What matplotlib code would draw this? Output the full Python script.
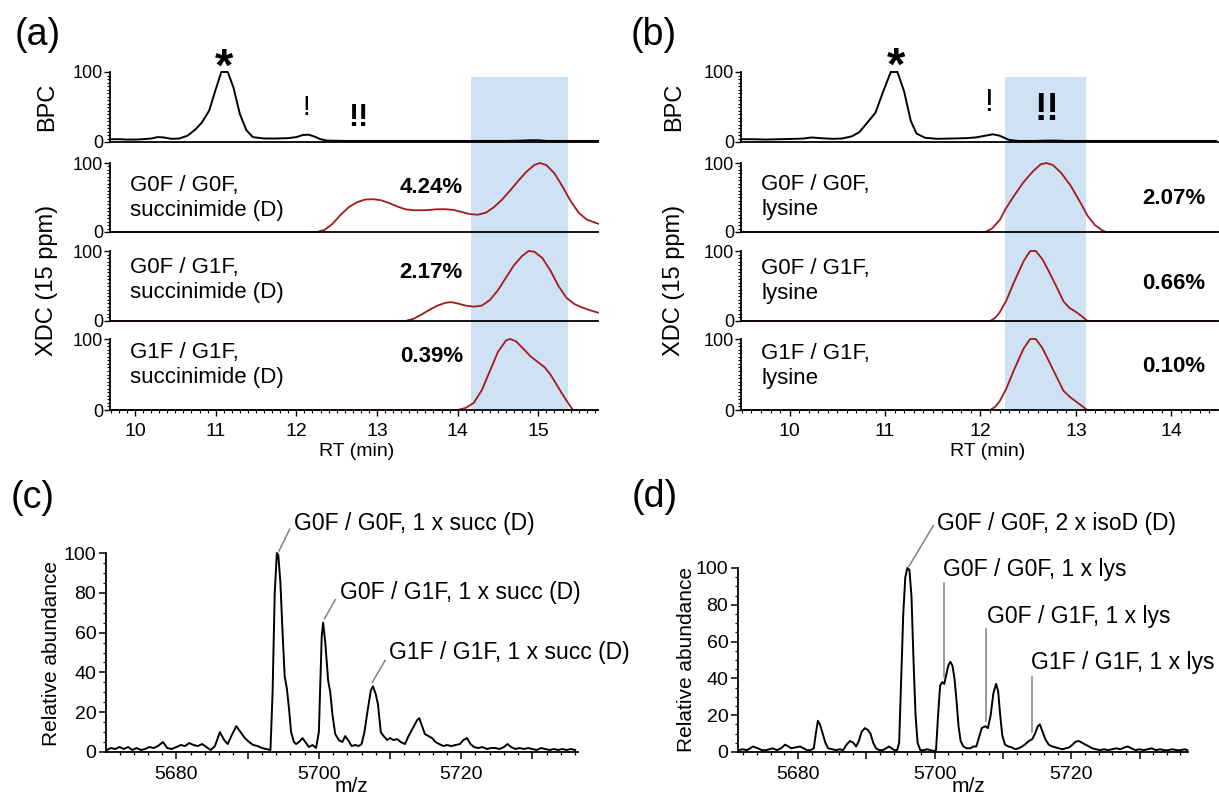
import matplotlib
matplotlib.use("Agg")
import matplotlib.pyplot as plt
from matplotlib.ticker import MultipleLocator, FixedLocator, FuncFormatter
from matplotlib.patches import Rectangle
from matplotlib.transforms import blended_transform_factory

plt.rcParams["font.family"] = ["Liberation Sans", "DejaVu Sans"]

# ---------------- chromatograms, panel (a) ----------------
a_bpc_rt = [9.69, 9.8, 9.9, 10.0, 10.1, 10.2, 10.28, 10.36, 10.45, 10.55, 10.65, 10.75, 10.83,
            10.92, 11.0, 11.07, 11.15, 11.22, 11.3, 11.38, 11.46, 11.6, 11.75, 11.9, 12.0,
            12.08, 12.15, 12.22, 12.3, 12.38, 12.6, 12.8, 13.0, 13.5, 14.0, 14.6, 14.8, 14.9,
            15.0, 15.1, 15.74]
a_bpc_int = [4, 4, 3.5, 3.5, 4, 5, 7, 6.5, 4.5, 5, 9, 18, 28,
             45, 75, 100, 100, 78, 40, 17, 7, 5, 5, 5.5, 7,
             10, 10.5, 8, 4, 2, 1.5, 1.5, 1.5, 1.5, 1.5, 1.5, 2, 2.5,
             2.5, 1.5, 1.5]

a_xdc1_rt = [9.69, 12.25, 12.35, 12.45, 12.55, 12.65, 12.75, 12.85, 12.95, 13.05, 13.15,
             13.25, 13.35, 13.45, 13.55, 13.65, 13.75, 13.85, 13.95, 14.05, 14.15, 14.25,
             14.35, 14.45, 14.55, 14.65, 14.75, 14.85, 14.95, 15.02, 15.1, 15.2, 15.3, 15.4,
             15.5, 15.6, 15.74]
a_xdc1_int = [0, 0, 3, 12, 25, 36, 43, 47, 47.5, 46, 42,
              37, 33, 31.5, 31.5, 32, 33, 33, 32, 29, 26, 25,
              28, 36, 47, 60, 74, 87, 97, 100, 97, 85, 66, 45,
              28, 18, 12]

a_xdc2_rt = [9.69, 13.35, 13.45, 13.55, 13.65, 13.75, 13.85, 13.92, 14.0, 14.1, 14.2, 14.3,
             14.4, 14.5, 14.6, 14.7, 14.8, 14.88, 14.95, 15.05, 15.15, 15.25, 15.35, 15.45,
             15.55, 15.65, 15.74]
a_xdc2_int = [0, 0, 3, 9, 16, 22, 26, 27, 25, 22, 20.5, 22,
              30, 44, 62, 80, 93, 100, 99, 90, 72, 50, 33, 24,
              19, 15, 12]

a_xdc3_rt = [9.69, 14.0, 14.1, 14.2, 14.3, 14.4, 14.5, 14.6, 14.65, 14.72, 14.8, 14.9, 15.0,
             15.08, 15.15, 15.22, 15.3, 15.38, 15.43, 15.74]
a_xdc3_int = [0, 0, 3, 10, 28, 55, 82, 98, 100, 97, 88, 76, 67,
              60, 50, 37, 22, 8, 0, 0]

# ---------------- chromatograms, panel (b) ----------------
b_bpc_rt = [9.5, 9.6, 9.75, 9.9, 10.05, 10.15, 10.23, 10.32, 10.45, 10.55, 10.65, 10.73,
            10.81, 10.9, 10.98, 11.06, 11.13, 11.2, 11.27, 11.33, 11.42, 11.55, 11.7, 11.85,
            11.95, 12.05, 12.13, 12.2, 12.3, 12.4, 12.55, 12.7, 12.8, 12.9, 13.1, 13.5, 14.0,
            14.47]
b_bpc_int = [4, 4, 3.5, 4, 4.5, 5, 6.5, 5.5, 4.5, 5, 8, 14,
             27, 42, 72, 100, 100, 72, 30, 12, 6, 4.5, 5, 5.5,
             6.5, 9, 11, 9, 3, 1.5, 1.5, 2, 2, 1.5, 1.5, 1.5, 1.5,
             1.5]

b_xdc1_rt = [9.5, 12.05, 12.12, 12.2, 12.27, 12.35, 12.45, 12.55, 12.63, 12.69, 12.76, 12.85,
             12.95, 13.05, 13.12, 13.2, 13.28, 13.32, 14.47]
b_xdc1_int = [0, 0, 5, 17, 35, 52, 72, 88, 98, 100, 97, 85,
              66, 42, 24, 10, 2, 0, 0]

b_xdc2_rt = [9.5, 12.1, 12.15, 12.2, 12.27, 12.35, 12.45, 12.52, 12.58, 12.65, 12.72, 12.8,
             12.87, 12.93, 13.0, 13.07, 13.12, 14.47]
b_xdc2_int = [0, 0, 4, 12, 29, 55, 85, 100, 100, 88, 70, 48,
              28, 19, 13, 6, 0, 0]

b_xdc3_rt = [9.5, 12.1, 12.15, 12.2, 12.27, 12.35, 12.45, 12.52, 12.58, 12.65, 12.72, 12.8,
             12.87, 12.94, 13.0, 13.07, 13.12, 14.47]
b_xdc3_int = [0, 0, 4, 12, 30, 56, 86, 100, 100, 87, 68, 46,
              27, 18, 12, 5, 0, 0]

a_labels = ["G0F / G0F,\nsuccinimide (D)", "G0F / G1F,\nsuccinimide (D)",
            "G1F / G1F,\nsuccinimide (D)"]
a_percent = ["4.24%", "2.17%", "0.39%"]
b_labels = ["G0F / G0F,\nlysine", "G0F / G1F,\nlysine", "G1F / G1F,\nlysine"]
b_percent = ["2.07%", "0.66%", "0.10%"]

# ---------------- deconvoluted spectra ----------------
c_mz = [5670.2, 5670.8, 5671.4, 5672.0, 5672.6, 5673.2, 5673.8, 5674.4, 5675.0, 5675.6,
        5676.2, 5676.8, 5677.4, 5678.1, 5678.7, 5679.3, 5680.0, 5680.6, 5681.2, 5681.8,
        5682.4, 5683.0, 5683.6, 5684.2, 5684.8, 5685.4, 5686.1, 5686.7, 5687.2, 5687.7,
        5688.4, 5689.0, 5689.6, 5690.2, 5690.8, 5691.4, 5692.0, 5692.6, 5693.2, 5693.5,
        5693.8, 5694.1, 5694.3, 5694.6, 5694.9, 5695.2, 5695.5, 5695.8, 5696.1, 5696.5,
        5696.8, 5697.2, 5697.7, 5698.1, 5698.6, 5699.1, 5699.6, 5700.0, 5700.4, 5700.6,
        5700.9, 5701.3, 5701.6, 5701.9, 5702.3, 5702.8, 5703.3, 5703.7, 5704.1, 5704.6,
        5705.1, 5705.6, 5706.0, 5706.4, 5706.9, 5707.3, 5707.6, 5708.0, 5708.3, 5708.7,
        5709.1, 5709.6, 5710.0, 5710.5, 5711.0, 5711.5, 5712.1, 5712.6, 5713.2, 5713.8,
        5714.1, 5714.5, 5714.9, 5715.4, 5715.9, 5716.4, 5716.9, 5717.5, 5718.0, 5718.6,
        5719.2, 5719.8, 5720.3, 5720.8, 5721.3, 5721.8, 5722.4, 5723.0, 5723.6, 5724.2,
        5724.8, 5725.4, 5726.0, 5726.5, 5727.0, 5727.6, 5728.2, 5728.8, 5729.4, 5730.0,
        5730.6, 5731.2, 5731.8, 5732.4, 5733.0, 5733.6, 5734.2, 5734.8, 5735.4, 5736.0]
c_int = [1, 2, 1.5, 2.5, 1.5, 2.5, 1, 2, 1, 1.5,
         2.5, 2, 3, 5, 2, 1.5, 2.5, 3.5, 3, 4.5,
         3.5, 3, 4, 2.5, 1, 3, 10, 6, 4, 8,
         13, 10, 7, 5, 3.5, 3, 2, 1.5, 1, 30,
         80, 100, 99, 85, 60, 38, 32, 22, 10, 5,
         4, 5, 7, 5, 2.5, 3.5, 2, 10, 58, 65,
         55, 36, 30, 19, 9, 6, 5, 8, 6, 3,
         3.5, 3, 4, 10, 22, 31, 33, 29, 24, 10,
         8, 6, 7, 6, 6.5, 5, 4, 8, 12, 16,
         17, 13, 9, 8, 7, 5, 4, 3, 3.5, 3,
         3.5, 4, 6, 7, 4, 2.5, 2, 2.5, 1.5, 2,
         2, 1.5, 2.5, 4, 2.5, 1.5, 2, 1.5, 2, 1.5,
         1, 2, 1.5, 1, 1.5, 1, 1.5, 1, 1.5, 1]

d_mz = [5671.3, 5671.9, 5672.5, 5673.0, 5673.4, 5674.1, 5674.7, 5675.3, 5675.8, 5676.3,
        5676.9, 5677.5, 5678.1, 5678.6, 5679.0, 5679.6, 5680.3, 5680.8, 5681.3, 5681.8,
        5682.3, 5682.6, 5682.9, 5683.2, 5683.6, 5684.0, 5684.4, 5685.0, 5685.6, 5686.1,
        5686.6, 5687.1, 5687.6, 5688.1, 5688.5, 5688.9, 5689.3, 5689.8, 5690.2, 5690.6,
        5691.0, 5691.4, 5691.9, 5692.4, 5692.9, 5693.3, 5693.7, 5694.1, 5694.5, 5694.8,
        5695.1, 5695.4, 5695.7, 5696.0, 5696.3, 5696.6, 5696.9, 5697.2, 5697.5, 5697.9,
        5698.4, 5698.9, 5699.4, 5699.9, 5700.2, 5700.5, 5700.8, 5701.1, 5701.4, 5701.7,
        5702.0, 5702.3, 5702.6, 5702.9, 5703.2, 5703.5, 5703.8, 5704.2, 5704.7, 5705.2,
        5705.7, 5706.1, 5706.5, 5706.9, 5707.4, 5707.8, 5708.2, 5708.6, 5709.0, 5709.3,
        5709.6, 5709.9, 5710.3, 5710.8, 5711.3, 5711.8, 5712.3, 5712.8, 5713.2, 5713.8,
        5714.3, 5714.7, 5715.1, 5715.4, 5715.8, 5716.2, 5716.7, 5717.2, 5717.7, 5718.2,
        5718.7, 5719.2, 5719.7, 5720.2, 5720.6, 5721.1, 5721.6, 5722.1, 5722.6, 5723.1,
        5723.6, 5724.2, 5724.8, 5725.4, 5726.0, 5726.6, 5727.2, 5727.8, 5728.3, 5728.8,
        5729.4, 5730.0, 5730.6, 5731.2, 5731.8, 5732.4, 5733.0, 5733.6, 5734.2, 5734.8,
        5735.4, 5736.0, 5736.6, 5737.0]
d_int = [1, 1.5, 1, 2, 3, 2, 1, 1, 1.5, 2,
         1, 2, 4, 3, 2, 2.5, 3, 2, 1, 1,
         2, 10, 17, 15, 10, 5, 2, 1.5, 1, 1.5,
         1, 4, 6, 5, 3, 6, 11, 13, 12, 10,
         5, 2, 1, 1, 2, 3, 2, 1, 1, 5,
         40, 75, 95, 100, 99, 85, 50, 20, 5, 1,
         1, 1.5, 1, 0.5, 1, 20, 36, 38, 37, 42,
         47, 49, 47, 40, 28, 14, 6, 3, 2, 2,
         3, 3, 8, 13, 14, 13, 20, 32, 37, 33,
         20, 9, 4, 3, 2.5, 1.5, 2, 3, 4, 6,
         7, 10, 14, 15, 11, 7, 4, 3, 2.5, 2,
         1.5, 2, 2.5, 4, 5.5, 6, 5, 4, 3, 2,
         1.5, 1, 1.5, 1, 1.5, 2, 1.5, 2.5, 3, 2,
         1, 1.5, 1, 1.5, 2, 1, 1.5, 1, 1, 1.5,
         1, 1, 1.5, 1]

c_labels = ["G0F / G0F, 1 x succ (D)", "G0F / G1F, 1 x succ (D)", "G1F / G1F, 1 x succ (D)"]
d_labels = ["G0F / G0F, 2 x isoD (D)", "G0F / G0F, 1 x lys", "G0F / G1F, 1 x lys",
            "G1F / G1F, 1 x lys"]

W, H = 1219, 799
RED = "#a3191c"
SPAN = "#cfe2f4"

fig = plt.figure(figsize=(W / 100, H / 100), dpi=100)


def rect(l, t, r, b):
    return [l / W, 1 - b / H, (r - l) / W, (b - t) / H]


def chrom_axes(l, r, t, b, xlim, bottom):
    ax = fig.add_axes(rect(l, t, r, b))
    ax.patch.set_visible(False)
    ax.set_xlim(*xlim)
    ax.set_ylim(0, 100)
    for s in ("top", "right"):
        ax.spines[s].set_visible(False)
    for s in ("left", "bottom"):
        ax.spines[s].set_linewidth(1.3)
    ax.yaxis.set_major_locator(FixedLocator([0, 100]))
    ax.yaxis.set_minor_locator(MultipleLocator(5))
    ax.tick_params(axis="y", which="major", length=4, width=1, labelsize=13, pad=1)
    ax.tick_params(axis="y", which="minor", length=2, width=0.8)
    if bottom:
        ax.xaxis.set_major_locator(MultipleLocator(1))
        ax.xaxis.set_minor_locator(MultipleLocator(0.1))
        ax.tick_params(axis="x", which="major", length=4, width=1, labelsize=14, pad=5)
        ax.tick_params(axis="x", which="minor", length=2, width=0.8)
    else:
        ax.tick_params(axis="x", which="both", bottom=False, labelbottom=False)
    return ax


rows = [(72, 142), (163, 232), (251, 321), (339, 410)]


def chrom_panel(l, r, xlim, bpc, xdcs, labels, percents, lab_y, pct_y, lab_x, pct_x, span):
    axes = [chrom_axes(l, r, t, b, xlim, i == 3) for i, (t, b) in enumerate(rows)]
    axes[0].plot(bpc[0], bpc[1], color="black", lw=1.4, clip_on=False)
    for ax, (x, y), txt, pct, ly, py in zip(axes[1:], xdcs, labels, percents, lab_y, pct_y):
        ax.plot(x, y, color=RED, lw=1.3, clip_on=False)
        ax.text(lab_x, ly, txt, transform=ax.transAxes, fontsize=16, va="center",
                ha="left", linespacing=1.25)
        ax.text(pct_x, py, pct, transform=ax.transAxes, fontsize=16, va="center",
                ha="right", fontweight="bold")
    tr = blended_transform_factory(axes[3].transData, fig.transFigure)
    fig.add_artist(Rectangle((span[0], 1 - 410 / H), span[1] - span[0], (410 - 77) / H,
                             transform=tr, facecolor=SPAN, edgecolor="none", zorder=-1))
    return axes


ax_a = chrom_panel(110, 598, (9.69, 15.74), (a_bpc_rt, a_bpc_int),
                   [(a_xdc1_rt, a_xdc1_int), (a_xdc2_rt, a_xdc2_int), (a_xdc3_rt, a_xdc3_int)],
                   a_labels, a_percent, [0.49, 0.58, 0.63], [0.64, 0.70, 0.75],
                   0.041, 0.723, (14.17, 15.37))
ax_b = chrom_panel(741, 1219, (9.49, 14.5), (b_bpc_rt, b_bpc_int),
                   [(b_xdc1_rt, b_xdc1_int), (b_xdc2_rt, b_xdc2_int), (b_xdc3_rt, b_xdc3_int)],
                   b_labels, b_percent, [0.51, 0.57, 0.62], [0.49, 0.54, 0.61],
                   0.042, 0.971, (12.26, 13.11))

# peak markers on the BPC traces
ax_a[0].text(11.10, 87, "*", fontsize=34, fontweight="bold", ha="center", va="baseline",
             clip_on=False)
ax_a[0].text(12.12, 39, "!", fontsize=20, ha="center", va="baseline", clip_on=False)
ax_a[0].text(12.77, 23, "!!", fontsize=22, fontweight="bold", ha="center", va="baseline",
             clip_on=False)
ax_b[0].text(11.11, 89, "*", fontsize=34, fontweight="bold", ha="center", va="baseline",
             clip_on=False)
ax_b[0].text(12.08, 44, "!", fontsize=23, ha="center", va="baseline", clip_on=False)
ax_b[0].text(12.70, 32, "!!", fontsize=27, fontweight="bold", ha="center", va="baseline",
             clip_on=False)

for x in (47, 674):
    fig.text(x / W, 1 - 107 / H, "BPC", rotation=90, fontsize=17, ha="center", va="center")
    fig.text(x / W, 1 - 280 / H, "XDC (15 ppm)", rotation=90, fontsize=17, ha="center",
             va="center")
fig.text(357 / W, 1 - 451 / H, "RT (min)", fontsize=14, ha="center", va="center")
fig.text(988 / W, 1 - 451 / H, "RT (min)", fontsize=14, ha="center", va="center")


# ---------------- spectra ----------------
def spec_axes(l, r, t, b, xlim):
    ax = fig.add_axes(rect(l, t, r, b))
    ax.set_xlim(*xlim)
    ax.set_ylim(0, 100)
    for s in ("top", "right"):
        ax.spines[s].set_visible(False)
    for s in ("left", "bottom"):
        ax.spines[s].set_linewidth(1.3)
    ax.yaxis.set_major_locator(MultipleLocator(20))
    ax.yaxis.set_minor_locator(MultipleLocator(5))
    ax.xaxis.set_major_locator(MultipleLocator(10))
    ax.xaxis.set_minor_locator(MultipleLocator(2))
    ax.xaxis.set_major_formatter(FuncFormatter(lambda v, p: f"{v:.0f}" if round(v) % 20 == 0 else ""))
    ax.tick_params(which="major", length=5, width=1.1, labelsize=14)
    ax.tick_params(axis="y", which="major", pad=2)
    ax.tick_params(axis="x", which="major", pad=5)
    ax.tick_params(which="minor", length=2.5, width=0.9)
    return ax


ax_c = spec_axes(106, 578, 553, 752, (5670.1, 5736.4))
ax_c.plot(c_mz, c_int, color="black", lw=1.4, clip_on=False)
c_text = [(5696.5, 115), (5702.9, 80), (5709.8, 50)]
c_lines = [((5694.4, 5695.9), (101, 112)), ((5700.8, 5702.3), (67, 76.5)),
           ((5707.5, 5709.3), (35, 46))]
for txt, (tx, ty), (lx, ly) in zip(c_labels, c_text, c_lines):
    ax_c.plot(lx, ly, color="#808080", lw=1.1, clip_on=False)
    ax_c.text(tx, ty, txt, fontsize=16.5, ha="left", va="center", clip_on=False)

ax_d = spec_axes(738, 1188, 568, 752, (5671.2, 5737.1))
ax_d.plot(d_mz, d_int, color="black", lw=1.4, clip_on=False)
d_text = [(5700.35, 124), (5701.2, 99), (5707.7, 73.5), (5714.1, 48.5)]
d_lines = [((5696.25, 5699.8), (101, 123)), ((5701.3, 5701.3), (92, 41)),
           ((5707.5, 5707.5), (67, 17)), ((5714.3, 5714.3), (41, 11))]
for txt, (tx, ty), (lx, ly) in zip(d_labels, d_text, d_lines):
    ax_d.plot(lx, ly, color="#808080", lw=1.1, clip_on=False)
    ax_d.text(tx, ty, txt, fontsize=16.5, ha="left", va="center", clip_on=False)

fig.text(52 / W, 1 - 653 / H, "Relative abundance", rotation=90, fontsize=15,
         ha="center", va="center")
fig.text(687 / W, 1 - 660 / H, "Relative abundance", rotation=90, fontsize=15,
         ha="center", va="center")
fig.text(351 / W, 1 - 787 / H, "m/z", fontsize=15, ha="center", va="center")
fig.text(968 / W, 1 - 787 / H, "m/z", fontsize=15, ha="center", va="center")

for x, y, s in [(38, 35, "(a)"), (654, 35, "(b)"), (33, 498, "(c)"), (655, 497, "(d)")]:
    fig.text(x / W, 1 - y / H, s, fontsize=27, ha="center", va="center")

fig.savefig("out.png", dpi=100)
